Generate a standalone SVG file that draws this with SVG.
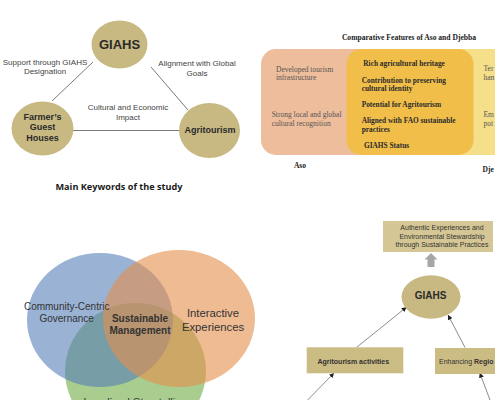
<svg xmlns="http://www.w3.org/2000/svg" width="495" height="400" viewBox="0 0 495 400">
<style>
.sans{font-family:"Liberation Sans",Arial,sans-serif}
.serif{font-family:"Liberation Serif","Times New Roman",serif}
.lbl{font-family:"Liberation Sans",Arial,sans-serif;font-size:8px;fill:#444;text-anchor:middle}
.kw{fill:#c8b983}
.kwt{font-family:"Liberation Sans",Arial,sans-serif;font-weight:bold;fill:#2a2a2a;text-anchor:middle}
.edge{stroke:#7a7a7a;stroke-width:1;fill:none}
.aso{font-family:"Liberation Serif","Times New Roman",serif;font-size:7.5px;fill:#555}
.mid{font-family:"Liberation Serif","Times New Roman",serif;font-size:7.35px;font-weight:bold;fill:#2b2b2b}
.venn{font-family:"Liberation Sans",Arial,sans-serif;fill:#333;text-anchor:middle}
.box{fill:#cbbc84}
.flow{font-family:"Liberation Sans",Arial,sans-serif;font-size:7px;fill:#333}
.link{stroke:#6e6e6e;stroke-width:0.8;fill:none;marker-end:url(#ah)}
</style>
<defs>
<marker id="ah" viewBox="0 0 6 6" refX="5" refY="3" markerWidth="5" markerHeight="5" orient="auto" markerUnits="userSpaceOnUse">
<path d="M0,0 L6,3 L0,6 z" fill="#222"/>
</marker>
</defs>
<rect width="495" height="400" fill="#ffffff"/>

<!-- Panel 1: keywords triangle -->
<g id="kw-connectors">
<line class="edge" x1="93" y1="62" x2="52" y2="101"/>
<line class="edge" x1="151" y1="67" x2="188" y2="110"/>
<line class="edge" x1="73" y1="130.5" x2="179" y2="130.5"/>
</g>
<g id="kw-labels">
<text class="lbl" x="45" y="64.5">Support through GIAHS</text>
<text class="lbl" x="45" y="73.5">Designation</text>
<text class="lbl" x="197" y="66">Alignment with Global</text>
<text class="lbl" x="197" y="75.5">Goals</text>
<text class="lbl" x="128" y="110">Cultural and Economic</text>
<text class="lbl" x="128" y="119.5">Impact</text>
</g>
<g id="kw-giahs">
<ellipse class="kw" cx="119.5" cy="44.5" rx="28" ry="24"/>
<text class="kwt" x="119.5" y="49" font-size="13" fill="#3a3a3a">GIAHS</text>
</g>
<g id="kw-farmers">
<ellipse class="kw" cx="42.5" cy="128.5" rx="31" ry="27"/>
<text class="kwt" x="42.5" y="119.8" font-size="9">Farmer’s</text>
<text class="kwt" x="42.5" y="130.3" font-size="9">Guest</text>
<text class="kwt" x="42.5" y="140.8" font-size="9">Houses</text>
</g>
<g id="kw-agritourism">
<ellipse class="kw" cx="209.5" cy="130.5" rx="30.5" ry="27.5"/>
<text class="kwt" x="210" y="132.8" font-size="9">Agritourism</text>
</g>
<text id="kw-title" x="119" y="190" text-anchor="middle" font-family="'Open Sans','Noto Sans',sans-serif" font-weight="bold" font-size="9" fill="#1a1a1a" textLength="127" lengthAdjust="spacingAndGlyphs">Main Keywords of the study</text>

<!-- Panel 2: comparative features -->
<text id="cmp-title" class="serif" x="409" y="39.5" text-anchor="middle" font-size="7.6" font-weight="bold" fill="#222">Comparative Features of Aso and Djebba</text>
<g id="cmp-djebba">
<rect x="440" y="49" width="80" height="106" rx="15" fill="#f5df89"/>
<text class="aso" x="483.5" y="70.5">Ter</text>
<text class="aso" x="483.5" y="79.5">han</text>
<text class="aso" x="483.5" y="117">Em</text>
<text class="aso" x="483.5" y="125.5">pot</text>
<text class="serif" x="482.5" y="171.5" font-size="7.5" font-weight="bold" fill="#222">Dje</text>
</g>
<g id="cmp-aso">
<rect x="261" y="49" width="120" height="106" rx="15" fill="#eebd9b"/>
<text class="aso" x="276" y="71.5">Developed tourism</text>
<text class="aso" x="276" y="80">infrastructure</text>
<text class="aso" x="271.7" y="117">Strong local and global</text>
<text class="aso" x="271.7" y="125.8">cultural recognition</text>
<text class="serif" x="300" y="168" text-anchor="middle" font-size="7.5" font-weight="bold" fill="#222">Aso</text>
</g>
<g id="cmp-shared">
<rect x="346.5" y="49" width="127" height="106" rx="15" fill="#f1be4a"/>
<text class="mid" x="363.3" y="65.8">Rich agricultural heritage</text>
<text class="mid" x="361.7" y="82.5">Contribution to preserving</text>
<text class="mid" x="361.7" y="91.3">cultural identity</text>
<text class="mid" x="361.7" y="106.5">Potential for Agritourism</text>
<text class="mid" x="361.7" y="123.2">Aligned with FAO sustainable</text>
<text class="mid" x="361.7" y="132.2">practices</text>
<text class="mid" x="364" y="147.5">GIAHS Status</text>
</g>

<!-- Panel 3: Venn -->
<g id="venn-storytelling">
<ellipse cx="135.5" cy="371" rx="70.5" ry="68" fill="rgb(112,172,68)" fill-opacity="0.6"/>
</g>
<g id="venn-governance">
<ellipse cx="100" cy="320" rx="73" ry="67" fill="rgb(87,127,183)" fill-opacity="0.6"/>
</g>
<g id="venn-experiences">
<ellipse cx="179" cy="318.5" rx="76" ry="68.5" fill="rgb(228,142,75)" fill-opacity="0.6"/>
</g>
<g id="venn-labels">
<text class="venn" x="66.7" y="310" font-size="10">Community-Centric</text>
<text class="venn" x="66.7" y="322" font-size="10">Governance</text>
<text class="venn" x="140" y="321.5" font-size="10" font-weight="bold" fill="#222">Sustainable</text>
<text class="venn" x="140" y="333.5" font-size="10" font-weight="bold" fill="#222">Management</text>
<text class="venn" x="213" y="317" font-size="11.3">Interactive</text>
<text class="venn" x="213" y="331" font-size="11.3">Experiences</text>
<text class="venn" x="135.5" y="405.5" font-size="11">Localized Storytelling</text>
</g>

<!-- Panel 4: flow -->
<g id="flow-connectors">
<polygon points="431,253 437.5,259.5 434.5,259.5 434.5,267 427.5,267 427.5,259.5 424.5,259.5" fill="#a6a6a6"/>
<line class="link" x1="356.7" y1="347.3" x2="406" y2="307.5"/>
<line class="link" x1="465" y1="347.5" x2="448.3" y2="315.5"/>
<line class="link" x1="307.7" y1="400" x2="333.5" y2="373.5"/>
<line class="link" x1="490" y1="400" x2="480" y2="373.5"/>
</g>
<g id="flow-outcome">
<rect x="383" y="221" width="110" height="31" fill="#d5c795"/>
<text class="flow" x="442" y="229.7" text-anchor="middle">Authentic Experiences and</text>
<text class="flow" x="442" y="238.7" text-anchor="middle">Environmental Stewardship</text>
<text class="flow" x="442" y="247.3" text-anchor="middle">through Sustainable Practices</text>
</g>
<g id="flow-giahs">
<ellipse cx="431" cy="297" rx="29.5" ry="21.7" fill="#c8b983"/>
<text class="kwt" x="430.5" y="298.8" font-size="10" fill="#3c3c3c">GIAHS</text>
</g>
<g id="flow-agritourism">
<rect class="box" x="306.7" y="347.3" width="96.6" height="26" />
<text class="flow" x="353.3" y="364" text-anchor="middle" font-weight="bold" fill="#222">Agritourism activities</text>
</g>
<g id="flow-regional">
<rect class="box" x="435" y="348" width="70" height="26"/>
<text class="flow" x="439" y="364.3" fill="#222">Enhancing <tspan font-weight="bold">Regio</tspan></text>
</g>
</svg>
